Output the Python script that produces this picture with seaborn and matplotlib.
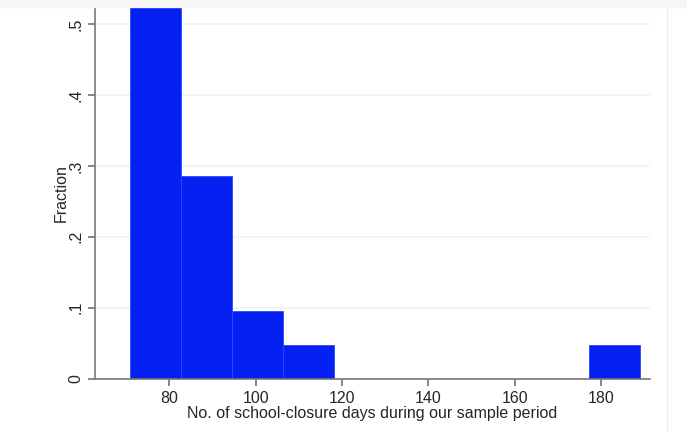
import numpy as np
import matplotlib
matplotlib.use("Agg")
import matplotlib.pyplot as plt
import seaborn as sns

# Histogram of school-closure days (10 bins, fraction of 21 obs)
bin_edges = [71.0, 82.8, 94.6, 106.4, 118.2, 130.0, 141.8, 153.6, 165.4, 177.2, 189.0]
fractions = [11/21, 6/21, 2/21, 1/21, 0, 0, 0, 0, 0, 1/21]
x_ticks = [80, 100, 120, 140, 160, 180]
y_ticks = [0, 0.1, 0.2, 0.3, 0.4, 0.5]
y_tick_labels = ["0", ".1", ".2", ".3", ".4", ".5"]

sns.set_style("ticks")
plt.rcParams["font.family"] = ["Liberation Sans", "DejaVu Sans"]

centers = [(a + b) / 2 for a, b in zip(bin_edges[:-1], bin_edges[1:])]

fig = plt.figure(figsize=(6.87, 4.32), dpi=100)
# light screenshot frame (top strip, right divider)
fig.patches.append(plt.Rectangle((0, 1 - 7/432), 1, 7/432, transform=fig.transFigure,
                                 color="#f6f6f6", zorder=0))
fig.lines.append(plt.Line2D([667/687, 667/687], [0, 1 - 7/432], transform=fig.transFigure,
                            color="#f0f0f0", lw=1))

ax = fig.add_axes([0.1376, 0.1234, 0.8084, 0.8604])

for y in y_ticks[1:]:
    ax.axhline(y, color="#edf3f4", lw=1.2, zorder=0)

sns.histplot(x=centers, weights=fractions, bins=bin_edges, ax=ax,
             color="#0420f2", edgecolor="#2a48fa", linewidth=0.6, alpha=1)

ax.set_xlim(62.7, 191.3)
ax.set_ylim(0, 11/21)
ax.set_xticks(x_ticks)
ax.set_yticks(y_ticks)
ax.set_yticklabels(y_tick_labels, rotation=90, va="center")
ax.tick_params(axis="both", which="major", bottom=True, left=True, length=5, width=1.1,
               color="#666666", labelsize=11.5, direction="out")
ax.tick_params(axis="y", pad=3)
ax.tick_params(axis="x", pad=4)

for side in ["top", "right"]:
    ax.spines[side].set_visible(False)
for side in ["left", "bottom"]:
    ax.spines[side].set_color("#777777")
    ax.spines[side].set_linewidth(1.2)

ax.set_xlabel("No. of school-closure days during our sample period", fontsize=11.5, labelpad=0)
ax.set_ylabel("Fraction", fontsize=11.5, labelpad=0)

plt.savefig("out.png", dpi=100)
